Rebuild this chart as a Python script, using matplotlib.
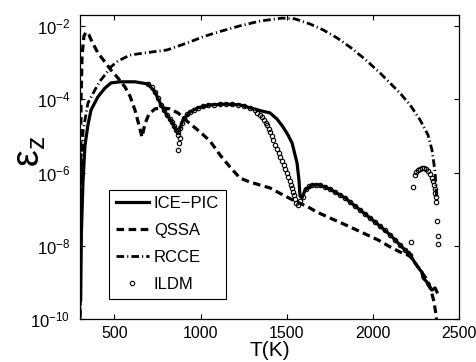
import matplotlib
matplotlib.use("Agg")
import matplotlib.pyplot as plt
import numpy as np
from matplotlib.ticker import FixedLocator, FuncFormatter, NullLocator

plt.rcParams["font.family"] = ["Liberation Sans", "DejaVu Sans"]
plt.rcParams["mathtext.fontset"] = "custom"
plt.rcParams["mathtext.rm"] = "Liberation Sans"
plt.rcParams["mathtext.it"] = "Liberation Sans"
plt.rcParams["mathtext.default"] = "regular"
plt.rcParams["lines.scale_dashes"] = False

# temperature (K) and log10(eps_z)
ice_T = [304, 308, 317, 329, 346, 364, 404, 445, 480, 532, 619, 695, 735, 770, 805,
         834, 857, 869, 881, 898, 939, 985, 1055, 1142, 1229, 1287, 1357, 1403, 1444,
         1478, 1507, 1531, 1560, 1571, 1577, 1589, 1606, 1647, 1693, 1751, 1838, 1925,
         2013, 2100, 2158, 2216, 2245, 2274, 2285, 2291, 2314, 2320, 2343, 2361, 2372]
ice_log = [-9.48, -7.65, -6.28, -5.25, -4.70, -4.29, -3.93, -3.69, -3.55, -3.52, -3.52,
           -3.58, -3.80, -4.15, -4.43, -4.62, -4.84, -4.89, -4.78, -4.56, -4.34, -4.23,
           -4.15, -4.13, -4.15, -4.23, -4.32, -4.37, -4.54, -4.75, -4.97, -5.19, -5.74,
           -6.20, -6.64, -6.69, -6.48, -6.34, -6.34, -6.45, -6.69, -7.02, -7.35, -7.70,
           -7.98, -8.25, -8.47, -8.66, -8.72, -8.88, -8.99, -9.07, -9.21, -9.15, -9.26]

qssa_T = [300, 303, 306, 312, 323, 335, 352, 370, 404, 445, 480, 521, 561, 590, 619,
          642, 660, 677, 700, 735, 776, 822, 869, 927, 997, 1055, 1113, 1171, 1229,
          1287, 1403, 1478, 1536, 1624, 1676, 1751, 1856, 1943, 2030, 2100, 2158, 2216,
          2274, 2320, 2338, 2355, 2367, 2372]
qssa_log = [-10.3, -6.75, -4.0, -2.79, -2.27, -2.16, -2.24, -2.43, -2.73, -2.98, -3.20,
            -3.42, -3.66, -3.91, -4.29, -4.70, -5.03, -4.67, -4.40, -4.26, -4.23, -4.26,
            -4.37, -4.62, -4.89, -5.14, -5.52, -5.85, -6.15, -6.26, -6.42, -6.61, -6.75,
            -6.94, -7.08, -7.24, -7.46, -7.65, -7.84, -8.03, -8.17, -8.28, -8.66, -8.96,
            -9.21, -9.54, -9.89, -10.16]

rcce_T = [300, 303, 309, 317, 329, 346, 387, 416, 445, 480, 521, 590, 677, 805, 921,
          1026, 1124, 1229, 1345, 1473, 1548, 1635, 1711, 1792, 1867, 1954, 2042, 2158,
          2216, 2274, 2320, 2343, 2361, 2372]
rcce_log = [-10.3, -8.11, -6.20, -4.90, -4.56, -4.10, -3.74, -3.50, -3.33, -3.11, -2.95,
            -2.79, -2.73, -2.65, -2.46, -2.27, -2.13, -1.99, -1.86, -1.78, -1.80, -1.94,
            -2.10, -2.32, -2.57, -2.90, -3.28, -3.83, -4.15, -4.56, -4.97, -5.38, -5.98,
            -6.80]

ildm_T = [695, 718, 735, 753, 770, 788, 805, 822, 834, 846, 857, 869, 869, 881, 875, 869,
          881, 892, 904, 921, 939, 962, 985, 1014, 1043, 1078, 1113, 1148, 1182, 1217,
          1252, 1287, 1316, 1327, 1345, 1357, 1368, 1380, 1386, 1397, 1403, 1415, 1420,
          1432, 1444, 1455, 1461, 1473, 1484, 1490, 1502, 1507, 1519, 1525, 1531, 1536,
          1542, 1548, 1554, 1565, 1577, 1594, 1612, 1629, 1647, 1670, 1693, 1722, 1751,
          1780, 1809, 1838, 1867, 1896, 1925, 1954, 1983, 2012, 2042, 2071, 2100, 2129,
          2158, 2187, 2204, 2216, 2221, 2233, 2245, 2250, 2262, 2274, 2285, 2297, 2309,
          2320, 2332, 2343, 2349, 2355, 2361, 2361, 2367, 2367, 2372, 2378, 2378]
ildm_log = [-3.58, -3.66, -3.80, -3.96, -4.15, -4.29, -4.43, -4.54, -4.62, -4.73, -4.84,
            -4.89, -4.97, -5.05, -5.19, -5.38, -4.78, -4.64, -4.51, -4.40, -4.34, -4.29,
            -4.23, -4.18, -4.15, -4.14, -4.13, -4.13, -4.13, -4.15, -4.18, -4.23, -4.29,
            -4.37, -4.43, -4.48, -4.56, -4.64, -4.70, -4.81, -4.89, -5.00, -5.11, -5.25,
            -5.36, -5.46, -5.57, -5.68, -5.79, -5.90, -6.01, -6.12, -6.23, -6.34, -6.42,
            -6.53, -6.61, -6.72, -6.83, -6.89, -6.78, -6.67, -6.45, -6.37, -6.34, -6.33,
            -6.34, -6.39, -6.45, -6.53, -6.61, -6.69, -6.80, -6.91, -7.02, -7.13, -7.24,
            -7.35, -7.46, -7.57, -7.70, -7.84, -7.98, -8.11, -8.20, -8.25, -7.90, -6.39,
            -6.07, -5.98, -5.93, -5.89, -5.87, -5.87, -5.90, -5.96, -6.04, -6.15, -6.23,
            -6.34, -6.45, -6.56, -6.67, -6.80, -7.32, -7.73, -7.95]

x_ticks = [500, 1000, 1500, 2000, 2500]
y_ticks = [1e-10, 1e-8, 1e-6, 1e-4, 1e-2]


def main() -> None:
    fig = plt.figure(figsize=(4.77, 3.62), dpi=100)
    ax = fig.add_axes([80 / 477, 43 / 362, 379 / 477, 304 / 362])

    ax.plot(ice_T, 10.0 ** np.array(ice_log), color="black", lw=2.3, label="ICE\u2212PIC",
            solid_joinstyle="round", zorder=3)
    ax.plot(qssa_T, 10.0 ** np.array(qssa_log), color="black", lw=2.3,
            dashes=(5.5, 3.2), label="QSSA", zorder=2)
    ax.plot(rcce_T, 10.0 ** np.array(rcce_log), color="black", lw=2.0,
            dashes=(5.5, 2.2, 0.8, 2.2), label="RCCE", zorder=2)
    ax.plot(ildm_T, 10.0 ** np.array(ildm_log), ls="none", marker="o", ms=3.2,
            mfc="none", mec="black", mew=0.8, label="ILDM", zorder=4)

    ax.set_yscale("log")
    ax.set_xlim(300, 2500)
    ax.set_ylim(1e-10, 2.02e-2)
    ax.xaxis.set_major_locator(FixedLocator(x_ticks))
    ax.yaxis.set_major_locator(FixedLocator(y_ticks))
    ax.yaxis.set_minor_locator(NullLocator())
    ax.yaxis.set_major_formatter(FuncFormatter(lambda v, _: r"$10^{%d}$" % round(np.log10(v))))
    ax.tick_params(which="both", direction="in", top=True, right=True, length=3.5,
                   width=0.8)
    ax.tick_params(axis="x", labelsize=11.5, pad=5)
    ax.tick_params(axis="y", labelsize=12, pad=7)
    for spine in ax.spines.values():
        spine.set_linewidth(0.9)

    leg = ax.legend(loc="lower left", bbox_to_anchor=(0.0765, 0.066), fontsize=12,
                    frameon=True, fancybox=False, framealpha=1, edgecolor="black",
                    handlelength=2.0, handletextpad=0.3, labelspacing=0.72,
                    borderpad=0.4, borderaxespad=0, numpoints=1)
    leg.get_frame().set_linewidth(0.8)

    fig.text(30 / 477, 1 - 152 / 362, r"$\epsilon_z$", fontsize=27, rotation=90,
             ha="center", va="center")
    fig.text(270 / 477, 1 - 350 / 362, "T(K)", fontsize=15, ha="center", va="center")

    fig.savefig("out.png", dpi=100)
    plt.close(fig)


if __name__ == "__main__":
    main()
